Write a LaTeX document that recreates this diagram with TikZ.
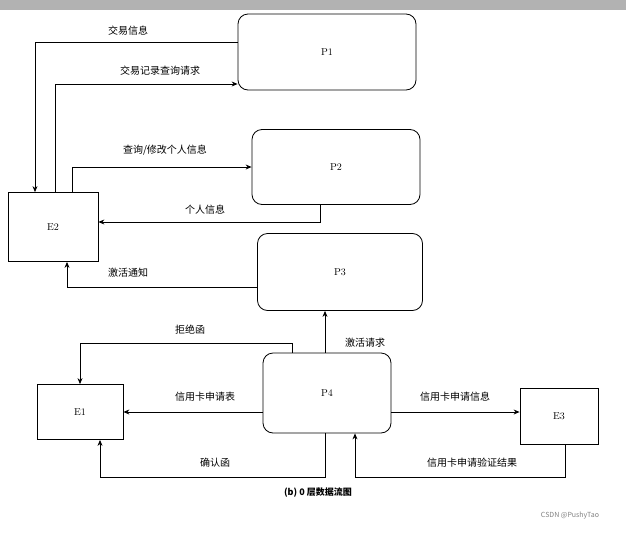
\documentclass[tikz,border=0pt]{standalone}
\usepackage{fontspec}
\newfontfamily\cjk{Noto Sans CJK SC}
\usetikzlibrary{arrows.meta}
\begin{document}
\begin{tikzpicture}[x=1pt,y=-1pt,
  proc/.style={draw,thick,rounded corners=10pt,inner sep=0pt},
  ent/.style={draw,thick,inner sep=0pt},
  flow/.style={thick,-{Stealth[length=6pt,width=5pt]}},
  lab/.style={font=\cjk\normalsize,inner sep=1pt},
  txt/.style={font=\small}]
\useasboundingbox (0,0) rectangle (626,533);
\fill[gray!60] (0,0) rectangle (626,10);
\node[proc,minimum width=178pt,minimum height=76pt] (P1) at (327,52) {P1};
\node[proc,minimum width=168pt,minimum height=75pt] (P2) at (336,167) {P2};
\node[proc,minimum width=165pt,minimum height=77pt] (P3) at (340,272) {P3};
\node[proc,minimum width=128pt,minimum height=80pt] (P4) at (327,393) {P4};
\node[ent,minimum width=90pt,minimum height=69pt] (E2) at (53,227) {E2};
\node[ent,minimum width=86pt,minimum height=55pt] (E1) at (80,412) {E1};
\node[ent,minimum width=78pt,minimum height=56pt] (E3) at (559,416) {E3};
\coordinate (a1) at (35,42); \coordinate (a2) at (55,84); \coordinate (a3) at (72,167);
\coordinate (a4) at (320,222); \coordinate (a5) at (67,287); \coordinate (a6) at (292,343);
\coordinate (a6b) at (80,343); \coordinate (a7) at (325,343);
\coordinate (a9) at (325,477); \coordinate (a9b) at (100,477);
\coordinate (a11) at (565,477); \coordinate (a11b) at (355,477);
\draw[flow] (P1.west |- a1) -- (a1) -- (a1 |- E2.north);
\draw[flow] (a2 |- E2.north) -- (a2) -- (P1.west |- a2);
\draw[flow] (a3 |- E2.north) -- (a3) -- (P2.west |- a3);
\draw[flow] (a4 |- P2.south) -- (a4) -- (E2.east |- a4);
\draw[flow] (P3.west |- a5) -- (a5) -- (a5 |- E2.south);
\draw[flow] (a6 |- P4.north) -- (a6) -- (a6b) -- (a6b |- E1.north);
\draw[flow] (a7 |- P4.north) -- (a7 |- P3.south);
\draw[flow] (P4.west |- E1.east) -- (E1.east);
\draw[flow] (a9 |- P4.south) -- (a9) -- (a9b) -- (a9b |- E1.south);
\draw[flow] (P4.east |- E1.east) -- (E3.west |- E1.east);
\draw[flow] (a11 |- E3.south) -- (a11) -- (a11b) -- (a11b |- P4.south);
\node[lab] (l1) at (128,31) {交易信息};
\node[lab] (l2) at (160,71) {交易记录查询请求};
\node[lab] (l3) at (165,150) {查询/修改个人信息};
\node[lab] (l4) at (205,210) {个人信息};
\node[lab] (l5) at (128,273) {激活通知};
\node[lab] (l6) at (190,330) {拒绝函};
\node[lab] (l7) at (365,343) {激活请求};
\node[lab] (l8) at (205,397) {信用卡申请表};
\node[lab] (l9) at (215,463) {确认函};
\node[lab] (l10) at (455,397) {信用卡申请信息};
\node[lab] (l11) at (472,463) {信用卡申请验证结果};
\node[lab,font=\cjk\small\bfseries] (cap) at (318,493) {(b) 0 层数据流图};
\node[lab,font=\cjk\scriptsize,text=gray] (wm) at (570,516) {CSDN @PushyTao};
\end{tikzpicture}
\end{document}
